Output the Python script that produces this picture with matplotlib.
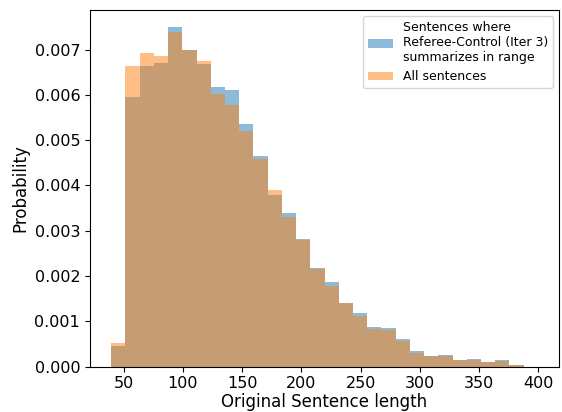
import numpy as np
import matplotlib
matplotlib.use("Agg")
import matplotlib.pyplot as plt

# histogram bins (sentence length), 30 bins of width 12
edges = np.linspace(39.5, 399.5, 31)

# density per bin
referee = [0.00046, 0.00595, 0.00664, 0.00670, 0.00750, 0.00699, 0.00668, 0.00617,
           0.00611, 0.00536, 0.00465, 0.00379, 0.00339, 0.00282, 0.00218, 0.00187,
           0.00141, 0.00119, 0.00088, 0.00085, 0.00061, 0.00035, 0.00024, 0.00026,
           0.00015, 0.00017, 0.00010, 0.00015, 0.00004, 0.0]
all_sent = [0.00052, 0.00664, 0.00692, 0.00686, 0.00739, 0.00699, 0.00675, 0.00602,
            0.00578, 0.00520, 0.00459, 0.00390, 0.00331, 0.00280, 0.00216, 0.00178,
            0.00141, 0.00112, 0.00083, 0.00081, 0.00056, 0.00030, 0.00024, 0.00024,
            0.00015, 0.00015, 0.00010, 0.00012, 0.00004, 0.0]

centers = (edges[:-1] + edges[1:]) / 2

fig = plt.figure(figsize=(5.62, 4.12), dpi=100)
ax = fig.add_axes([0.160, 0.110, 0.835, 0.866])

ax.hist(centers, bins=edges, weights=referee, alpha=0.5,
        label='Sentences where\nReferee-Control (Iter 3)\nsummarizes in range')
ax.hist(centers, bins=edges, weights=all_sent, alpha=0.5, label='All sentences')

ax.set_xlabel('Original Sentence length', fontsize=12, labelpad=1.5)
ax.set_ylabel('Probability', fontsize=12)
ax.tick_params(labelsize=11.5)
ax.legend(loc='upper right', fontsize=9)

fig.savefig('out.png', dpi=100)
